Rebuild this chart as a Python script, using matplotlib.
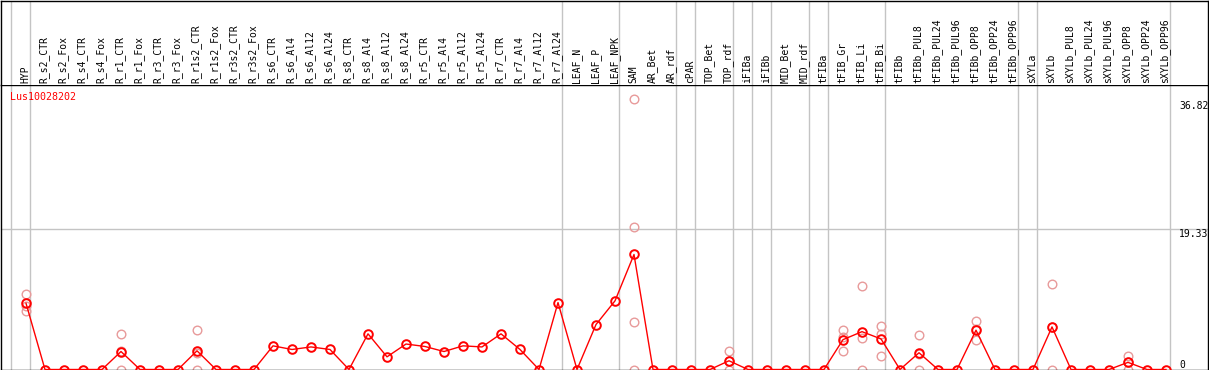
#!/usr/bin/env python3
from __future__ import annotations

import matplotlib

matplotlib.use("Agg")
import matplotlib.pyplot as plt

GENE = "Lus10028202"

labels = [
    "HYP", "R_s2_CTR", "R_s2_Fox", "R_s4_CTR", "R_s4_Fox", "R_r1_CTR", "R_r1_Fox",
    "R_r3_CTR", "R_r3_Fox", "R_r1s2_CTR", "R_r1s2_Fox", "R_r3s2_CTR", "R_r3s2_Fox",
    "R_s6_CTR", "R_s6_Al4", "R_s6_Al12", "R_s6_Al24", "R_s8_CTR", "R_s8_Al4",
    "R_s8_Al12", "R_s8_Al24", "R_r5_CTR", "R_r5_Al4", "R_r5_Al12", "R_r5_Al24",
    "R_r7_CTR", "R_r7_Al4", "R_r7_Al12", "R_r7_Al24", "LEAF_N", "LEAF_P", "LEAF_NPK",
    "SAM", "AR_Bet", "AR_rdf", "cPAR", "TOP_Bet", "TOP_rdf", "iFIBa", "iFIBb",
    "MID_Bet", "MID_rdf", "tFIBa", "tFIB_Gr", "tFIB_Li", "tFIB_Bi", "tFIBb",
    "tFIBb_PUL8", "tFIBb_PUL24", "tFIBb_PUL96", "tFIBb_OPP8", "tFIBb_OPP24",
    "tFIBb_OPP96", "sXYLa", "sXYLb", "sXYLb_PUL8", "sXYLb_PUL24", "sXYLb_PUL96",
    "sXYLb_OPP8", "sXYLb_OPP24", "sXYLb_OPP96",
]

# mean expression per sample
mean_vals = [
    9.1, 0, 0, 0, 0, 2.47, 0,
    0, 0, 2.57, 0, 0, 0,
    3.25, 2.75, 3.1, 2.75, 0, 4.9,
    1.74, 3.5, 3.16, 2.47, 3.25, 3.1,
    4.9, 2.75, 0, 9.2, 0, 6.18, 9.43,
    15.8, 0, 0, 0, 0, 1.2, 0, 0,
    0, 0, 0, 4.1, 5.2, 4.2, 0,
    2.3, 0, 0, 5.4, 0,
    0, 0, 5.85, 0, 0, 0,
    0.98, 0, 0,
]

# single replicates (only where they differ from 0)
replicates = {
    "HYP": [10.4, 8.7, 8.1],
    "R_r1_CTR": [4.9, 2.5, 0],
    "R_r1s2_CTR": [5.4, 2.3, 0],
    "SAM": [37.2, 19.6, 6.46, 0],
    "TOP_rdf": [2.5, 1.1, 0],
    "tFIB_Gr": [5.4, 4.5, 2.6],
    "tFIB_Li": [11.5, 4.3, 0],
    "tFIB_Bi": [6.0, 4.9, 1.8],
    "tFIBb_PUL8": [4.8, 2.1, 0],
    "tFIBb_OPP8": [6.6, 5.6, 4.0],
    "sXYLb": [11.7, 5.8, 0],
    "sXYLb_OPP8": [1.9, 1.0, 0],
}

# sample index where a new tissue group starts (grey separators)
group_starts = [0, 1, 29, 32, 35, 36, 38, 39, 40, 42, 43, 46, 53, 54, 61]

ytick_vals = [36.82, 19.33, 0]

W, H = 1209, 370
FONT = "DejaVu Sans Mono"
GREY = "#c4c4c4"
RED = "#ff0000"
PINK = "#e89a9a"

# pixel geometry of the original
X0, DX = 26, 19          # first sample x, step
LEFT, RIGHT = 0.5, 1207.5
HEAD_BOT = 85
BASE = 369.5
PX_PER_UNIT = 7.279


def _px_to_x(px: float) -> float:
    return (px - X0) / DX


def main() -> int:
    fig = plt.figure(figsize=(W / 100, H / 100), dpi=100)

    xlim = (_px_to_x(LEFT), _px_to_x(RIGHT))
    ax = fig.add_axes([LEFT / W, (H - BASE) / H, (RIGHT - LEFT) / W, (BASE - HEAD_BOT) / H])
    hd = fig.add_axes([LEFT / W, (H - HEAD_BOT) / H, (RIGHT - LEFT) / W, (HEAD_BOT - 0.5) / H])

    for a in (ax, hd):
        a.set_xlim(*xlim)
        a.set_xticks([])
        a.set_yticks([])
        for s in a.spines.values():
            s.set_linewidth(1.0)
            s.set_color("black")
        for g in group_starts:
            a.axvline(g - 15 / DX, color=GREY, lw=1.0, zorder=0)
    hd.spines["bottom"].set_visible(False)
    hd.set_ylim(0, 1)
    ax.set_ylim(0, (BASE - HEAD_BOT) / PX_PER_UNIT)

    # header with sample names
    for i, name in enumerate(labels):
        hd.text(i - 0.05, 0.02, name, rotation=90, ha="center", va="bottom",
                family=FONT, fontsize=7)

    # horizontal reference line
    ax.axhline(19.33, color=GREY, lw=1.0, zorder=0)

    # replicates
    for name, vals in replicates.items():
        i = labels.index(name)
        ax.plot([i] * len(vals), vals, ls="none", marker="o", ms=6.2,
                mfc="none", mec=PINK, mew=1.0, clip_on=False, zorder=2)

    # mean line
    xs = list(range(len(labels)))
    ax.plot(xs, mean_vals, color=RED, lw=1.0, marker="o", ms=6.2,
            mfc="none", mec=RED, mew=1.4, clip_on=False, zorder=3)

    ax.text((10 - LEFT) / (RIGHT - LEFT), 1 - (97 - HEAD_BOT) / (BASE - HEAD_BOT), GENE,
            transform=ax.transAxes, color=RED, family=FONT, fontsize=7.2,
            ha="left", va="center")

    # y labels on the right, inside the frame
    tx = (1179 - LEFT) / (RIGHT - LEFT)
    for v in ytick_vals:
        if v == 0:
            ax.text(tx, v, "0", transform=ax.get_yaxis_transform(), family=FONT,
                    fontsize=7, ha="left", va="bottom")
        else:
            ax.text(tx, v, f"{v:.2f}", transform=ax.get_yaxis_transform(), family=FONT,
                    fontsize=7, ha="left", va="top")

    fig.savefig("out.png", dpi=100)
    plt.close(fig)
    return 0


if __name__ == "__main__":
    raise SystemExit(main())
